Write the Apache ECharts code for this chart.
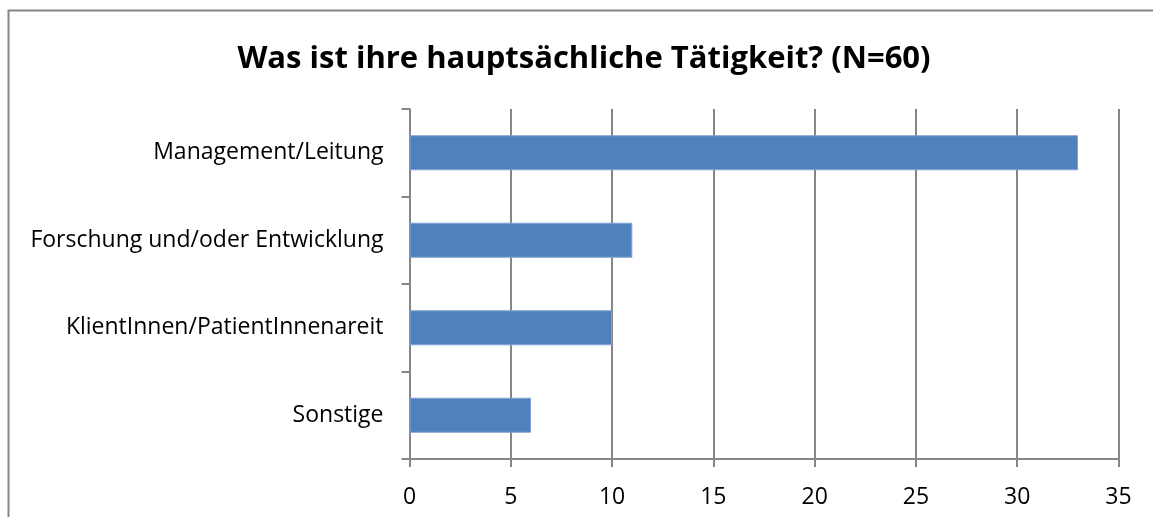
<!DOCTYPE html>
<html><head><meta charset="utf-8">
<script src="https://cdn.jsdelivr.net/npm/echarts@6/dist/echarts.min.js"></script>
<style>html,body{margin:0;padding:0;background:#fff}#c{width:1153px;height:517px}</style>
</head><body><div id="c"></div>
<script>
const titleText = 'Was ist ihre hauptsächliche Tätigkeit? (N=60)';
const categories = ['Management/Leitung', 'Forschung und/oder Entwicklung', 'KlientInnen/PatientInnenareit', 'Sonstige'];
const values = [33, 11, 10, 6];
const xMin = 0, xMax = 35, xStep = 5;

const chart = echarts.init(document.getElementById('c'), null, {renderer: 'canvas'});
const FONT = 'Open Sans';
chart.setOption({
  animation: false,
  backgroundColor: '#fff',
  graphic: [{
    type: 'rect', shape: {x: 8.5, y: 10.5, width: 1300, height: 700},
    style: {fill: 'none', stroke: '#868686', lineWidth: 2}, silent: true
  }],
  title: {
    text: titleText, left: 579, top: 39, textAlign: 'center',
    textStyle: {fontFamily: FONT, fontSize: 31, fontWeight: 'bold', color: '#000'}
  },
  grid: {left: 409.5, top: 109, width: 709, height: 350, containLabel: false},
  xAxis: {
    type: 'value', min: xMin, max: xMax, interval: xStep,
    axisLine: {show: true, lineStyle: {color: '#868686', width: 2}},
    axisTick: {show: true, length: 8, lineStyle: {color: '#868686', width: 2}},
    axisLabel: {fontFamily: FONT, fontSize: 23, color: '#000', margin: 27},
    splitLine: {show: true, lineStyle: {color: '#868686', width: 2}}
  },
  yAxis: {
    type: 'category', data: categories, inverse: true,
    axisLine: {show: true, lineStyle: {color: '#868686', width: 2}},
    axisTick: {show: true, length: 8, lineStyle: {color: '#868686', width: 2}},
    axisLabel: {fontFamily: FONT, fontSize: 23, color: '#000', margin: 26}
  },
  series: [{
    type: 'bar', data: values, barWidth: 35,
    itemStyle: {color: '#4F81BD', borderColor: '#7FA3D2', borderWidth: 1}
  }]
});
</script></body></html>
